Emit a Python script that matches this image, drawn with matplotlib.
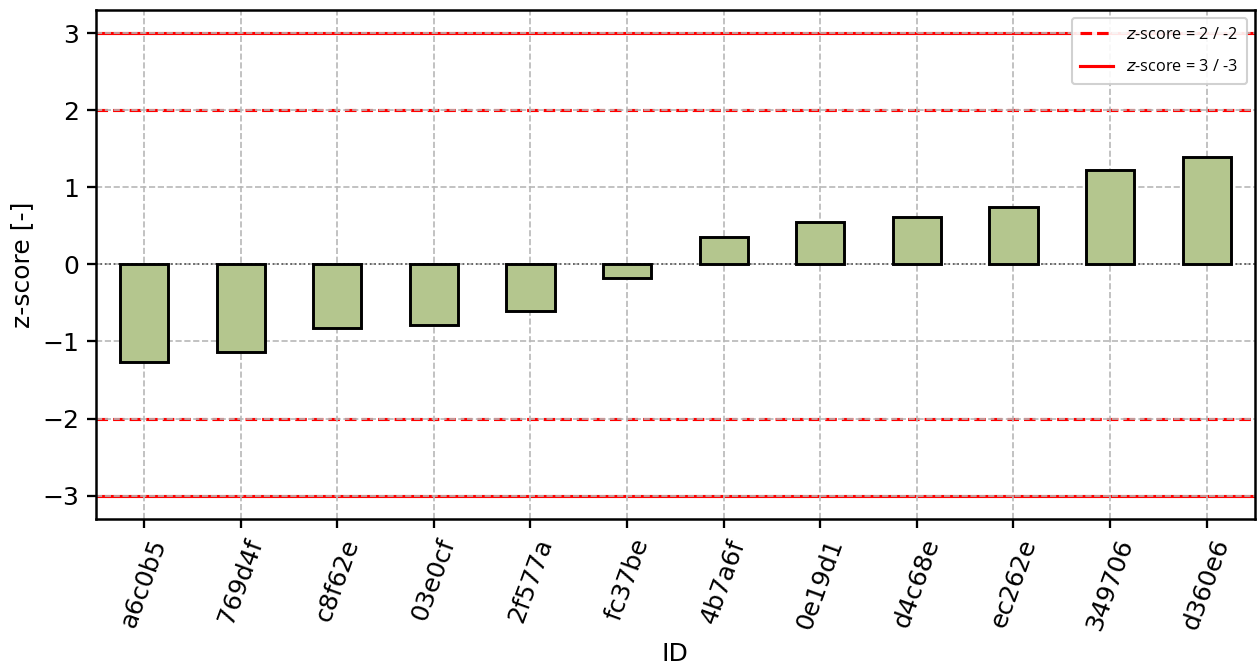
import matplotlib
matplotlib.use('Agg')
import matplotlib.pyplot as plt
import numpy as np

# z-scores per ID
ids = ['a6c0b5', '769d4f', 'c8f62e', '03e0cf', '2f577a', 'fc37be',
       '4b7a6f', '0e19d1', 'd4c68e', 'ec262e', '349706', 'd360e6']
zscores = [-1.27, -1.13, -0.83, -0.78, -0.61, -0.17,
           0.35, 0.55, 0.62, 0.74, 1.22, 1.39]
limits_warn = [2, -2]
limits_alarm = [3, -3]

plt.rcParams['font.size'] = 12
plt.rcParams['axes.linewidth'] = 1.2

fig, ax = plt.subplots(figsize=(8.4, 4.44), dpi=150)
fig.subplots_adjust(left=0.076, right=0.996, top=0.985, bottom=0.221)

x = np.arange(len(ids))
ax.bar(x, zscores, width=0.5, color='#b4c68e', edgecolor='black',
       linewidth=1.4, zorder=3)

# threshold lines (under the grid, like the original)
for i, v in enumerate(limits_warn):
    ax.axhline(v, color='red', linestyle='--', linewidth=1.5, zorder=1,
               label='$z$-score = 2 / -2' if i == 0 else None)
for i, v in enumerate(limits_alarm):
    ax.axhline(v, color='red', linestyle='-', linewidth=1.5, zorder=1,
               label='$z$-score = 3 / -3' if i == 0 else None)
ax.axhline(0, color='#555555', linestyle=':', linewidth=0.8, zorder=2)

ax.grid(True, linestyle='--', color='#b8b8b8', linewidth=0.8, zorder=1.5)
ax.set_axisbelow('line')
ax.tick_params(length=4.5, width=1.1)

ax.set_xlim(-0.5, len(ids) - 0.5)
ax.set_ylim(-3.3, 3.3)
ax.set_xticks(x)
ax.set_xticklabels(ids, rotation=70)
ax.set_yticks([-3, -2, -1, 0, 1, 2, 3])
ax.set_xlabel('ID')
ax.set_ylabel('z-score [-]')

ax.legend(loc='upper right', prop={'family': 'Open Sans', 'size': 7.8},
          framealpha=0.9, labelspacing=1.0, borderpad=0.55)

fig.savefig('out.png', dpi=150)
